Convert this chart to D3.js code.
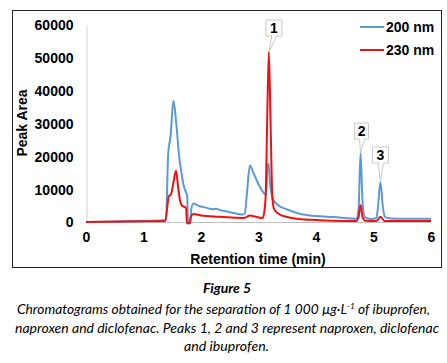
<!DOCTYPE html>
<html><head><meta charset="utf-8">
<script src="https://cdn.jsdelivr.net/npm/d3@7"></script>
<style>body{margin:0;background:#fff}svg{display:block}</style>
</head><body>
<svg id="c" width="447" height="363"></svg>
<script>
const xTicks = [0,1,2,3,4,5,6];
const yTicks = [0,10000,20000,30000,40000,50000,60000];
const seriesNames = ["200 nm","230 nm"];
const seriesColors = ["#5b9bd5","#ee1111"];
const t200 = [0,0.5,1.0,1.39,1.43,1.47,1.52,1.57,1.62,1.66,1.70,1.74,1.76,1.775,1.815,1.83,1.87,1.95,2.1,2.2,2.27,2.32,2.5,2.7,2.76,2.80,2.85,2.90,3.0,3.1,3.13,3.155,3.175,3.2,3.25,3.35,3.5,3.7,4.0,4.3,4.6,4.70,4.74,4.775,4.81,4.85,4.95,5.05,5.08,5.12,5.16,5.2,5.3,5.6,6.0];
const v200 = [0,150,300,600,21000,26000,36900,30000,20000,15000,11000,9000,8000,-400,-400,4000,5600,5000,4300,3900,4000,3700,3000,2300,2400,9000,17200,15500,11500,8700,8300,16000,17800,12000,7000,5000,3800,2600,1800,1500,1100,1000,4000,21000,6000,1500,900,1200,5000,12200,5000,1500,1100,1000,1000];
const t230 = [0,1.0,1.38,1.41,1.44,1.48,1.52,1.565,1.60,1.63,1.66,1.70,1.74,1.755,1.805,1.82,1.87,2.0,2.3,2.6,2.75,2.85,2.95,3.07,3.10,3.125,3.15,3.18,3.21,3.24,3.27,3.35,3.5,3.7,4.0,4.3,4.7,4.74,4.775,4.81,4.86,5.05,5.08,5.12,5.16,5.2,6.0];
const v230 = [0,200,300,4000,7800,8500,12000,15600,11000,7000,5200,4700,4300,-400,-400,1500,2400,2000,1600,1300,1200,2000,1600,1200,3000,8200,30000,51800,30000,8000,4000,2500,1500,900,600,400,300,1500,5200,1500,400,300,800,1600,800,300,300];
const peakLabels = ["1","2","3"];
const peakTimes = [3.18,4.775,5.12];
const peakValues = [51800,21000,12200];
const peakSeries = [1,0,0];
const xTitle = "Retention time (min)";
const yTitle = "Peak Area";
const figTitle = "Figure 5";

const svg = d3.select("#c");
svg.append("rect").attr("width",447).attr("height",363).attr("fill","#fff");
svg.append("rect").attr("x",12.5).attr("y",10.5).attr("width",429).attr("height",257)
  .attr("fill","none").attr("stroke","#222").attr("stroke-width",1);

const x = d3.scaleLinear().domain([0,6]).range([86,431]);
const y = d3.scaleLinear().domain([0,60000]).range([222,25]);
const bold = "bold 14px 'Liberation Sans', Arial, sans-serif";

// axes
const xa = svg.append("g").attr("transform","translate(0,222)")
  .call(d3.axisBottom(x).tickValues(xTicks).tickSize(0).tickPadding(10).tickFormat(d3.format("d")));
xa.select(".domain").attr("stroke","#bfbfbf");
xa.selectAll("text").style("font",bold).attr("fill","#000");
const ya = svg.append("g").attr("transform","translate(86.5,0)")
  .call(d3.axisLeft(y).tickValues(yTicks).tickSize(0).tickPadding(13).tickFormat(d3.format("d")));
ya.select(".domain").attr("stroke","#d0d0d0");
ya.selectAll("text").style("font",bold).attr("fill","#000").attr("dy","0.35em");

svg.append("text").attr("x",258).attr("y",264).attr("text-anchor","middle")
  .style("font",bold).text(xTitle);
svg.append("text").attr("transform","translate(27,123) rotate(-90)").attr("text-anchor","middle")
  .style("font",bold).text(yTitle);

// lines
const line = d3.line().x(d=>x(d[0])).y(d=>y(d[1])).curve(d3.curveMonotoneX);
const data = [d3.zip(t200,v200), d3.zip(t230,v230)];
data.forEach((d,i)=>{
  svg.append("path").datum(d).attr("d",line).attr("fill","none")
    .attr("stroke",seriesColors[i]).attr("stroke-width",2).attr("stroke-linejoin","round");
});
// redraw red on top already (order: blue then red)

// legend
seriesNames.forEach((n,i)=>{
  const ly = 27 + i*23;
  svg.append("line").attr("x1",360).attr("x2",384).attr("y1",ly).attr("y2",ly)
    .attr("stroke",seriesColors[i]).attr("stroke-width",2);
  svg.append("text").attr("x",386).attr("y",ly).attr("dy","0.35em").style("font",bold).text(n);
});

// peak callouts
const offs = [[5,16],[1,14],[0,19]];
peakLabels.forEach((lab,i)=>{
  const px = x(peakTimes[i]), py = y(peakValues[i]);
  const cx = px + offs[i][0], bb = py - offs[i][1];
  const w = i===1?14:16, h = 16;
  const l = cx - w/2, r = cx + w/2, t = bb - h;
  const p = `M${l},${t}H${r}V${bb}H${cx+3}L${px},${py}L${cx-2},${bb}H${l}Z`;
  svg.append("path").attr("d",p).attr("fill","#fff").attr("stroke","#c8c8c8").attr("stroke-width",1);
  svg.append("text").attr("x",cx).attr("y",t+h/2).attr("dy","0.36em").attr("text-anchor","middle")
    .style("font",bold).text(lab);
});

// caption
const cap = "'Lato','Open Sans',sans-serif";
svg.append("text").attr("x",227).attr("y",293).attr("text-anchor","middle")
  .style("font","italic bold 14px "+cap).text(figTitle);
const l1 = svg.append("text").attr("x",17).attr("y",314).style("font","italic 13px "+cap)
  .attr("textLength",413).attr("lengthAdjust","spacingAndGlyphs");
l1.append("tspan").text("Chromatograms obtained for the separation of 1 000 µg·L");
l1.append("tspan").attr("dy",-5).style("font-size","8px").text("-1");
l1.append("tspan").attr("dy",5).text(" of ibuprofen,");
svg.append("text").attr("x",15).attr("y",333).style("font","italic 13px "+cap)
  .attr("textLength",424).attr("lengthAdjust","spacingAndGlyphs")
  .text("naproxen and diclofenac. Peaks 1, 2 and 3 represent naproxen, diclofenac");
svg.append("text").attr("x",184).attr("y",351).style("font","italic 13px "+cap)
  .attr("textLength",85).attr("lengthAdjust","spacingAndGlyphs").text("and ibuprofen.");
</script>
</body></html>
